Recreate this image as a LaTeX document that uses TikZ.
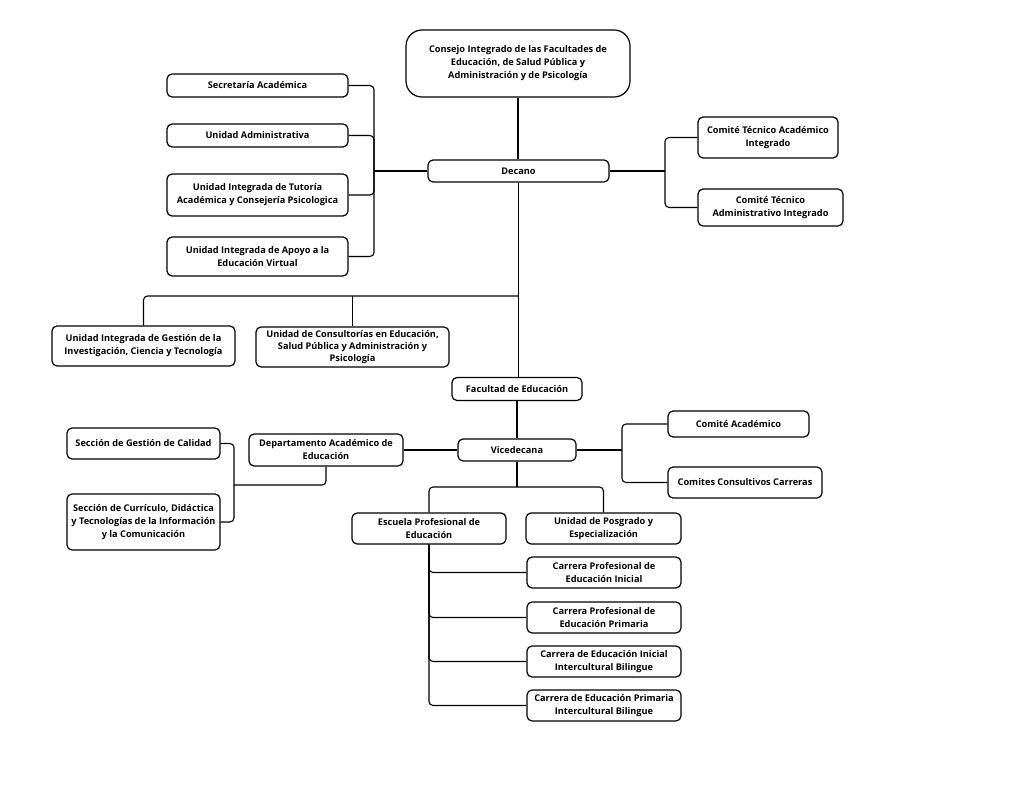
\documentclass[tikz,border=0pt]{standalone}
\usepackage{fontspec}
\setmainfont{Open Sans}
\usetikzlibrary{positioning}

\begin{document}
\begin{tikzpicture}[x=1pt, y=-1pt,
  box/.style={draw, line width=1.2pt, rounded corners=5pt, align=center, inner sep=1pt, fill=white, font=\fontsize{9.2}{13}\selectfont\bfseries},
  line/.style={line width=1.1pt, rounded corners=4pt}
]
  \useasboundingbox (0,0) rectangle (1024,799);

  % top level
  \node[box, minimum width=224pt, minimum height=67pt, rounded corners=16pt] (consejo) at (518,63.5) {Consejo Integrado de las Facultades de\\Educación, de Salud Pública y\\Administración y de Psicología};
  \node[box, minimum width=181pt, minimum height=22pt] (decano) at (518.5,171) {Decano};

  \node[box, minimum width=181pt, minimum height=23pt] (secr) at (257.5,85.5) {Secretaría Académica};
  \node[box, minimum width=181pt, minimum height=23pt] (admin) at (257.5,135.5) {Unidad Administrativa};
  \node[box, minimum width=181pt, minimum height=42pt] (tutoria) at (257.5,195) {Unidad Integrada de Tutoría\\Académica y Consejería Psicologica};
  \node[box, minimum width=181pt, minimum height=39pt] (apoyo) at (257.5,256.5) {Unidad Integrada de Apoyo a la\\Educación Virtual};

  \node[box, minimum width=140pt, minimum height=41pt] (ctaca) at (768,137.5) {Comité Técnico Académico\\Integrado};
  \node[box, minimum width=145pt, minimum height=37pt] (ctadm) at (770.5,207.5) {Comité Técnico\\Administrativo Integrado};

  \node[box, minimum width=183pt, minimum height=40pt] (gestion) at (143.5,346) {Unidad Integrada de Gestión de la\\Investigación, Ciencia y Tecnología};
  \node[box, minimum width=193pt, minimum height=40pt, font=\fontsize{9.2}{12}\selectfont\bfseries] (consult) at (352.5,347) {Unidad de Consultorías en Educación,\\Salud Pública y Administración y\\Psicología};

  % faculty
  \node[box, minimum width=130pt, minimum height=23pt] (facultad) at (517,389) {Facultad de Educación};
  \node[box, minimum width=118pt, minimum height=22pt] (vice) at (517,450) {Vicedecana};

  \node[box, minimum width=141pt, minimum height=26pt] (comaca) at (738.5,424) {Comité Académico};
  \node[box, minimum width=154pt, minimum height=31pt] (comcons) at (745,482.5) {Comites Consultivos Carreras};

  \node[box, minimum width=154pt, minimum height=32pt] (depto) at (326,450) {Departamento Académico de\\Educación};
  \node[box, minimum width=153pt, minimum height=31pt] (secgest) at (143.5,443.5) {Sección de Gestión de Calidad};
  \node[box, minimum width=153pt, minimum height=56pt] (seccurr) at (143.5,522) {Sección de Currículo, Didáctica\\y Tecnologías de la Información\\y la Comunicación};

  \node[box, minimum width=154pt, minimum height=31pt] (escuela) at (429,528.5) {Escuela Profesional de\\Educación};
  \node[box, minimum width=155pt, minimum height=31pt] (posgrado) at (603.5,528.5) {Unidad de Posgrado y\\Especialización};

  \node[box, minimum width=154pt, minimum height=31pt] (car1) at (604,572.5) {Carrera Profesional de\\Educación Inicial};
  \node[box, minimum width=154pt, minimum height=31pt] (car2) at (604,617.5) {Carrera Profesional de\\Educación Primaria};
  \node[box, minimum width=154pt, minimum height=31pt] (car3) at (604,661.5) {Carrera de Educación Inicial\\Intercultural Bilingue};
  \node[box, minimum width=154pt, minimum height=31pt] (car4) at (604,705.5) {Carrera de Educación Primaria\\Intercultural Bilingue};

  % bus points
  \coordinate (lbus) at (374,171);
  \coordinate (rbus) at (665,171);
  \coordinate (hbus) at (518.5,296);
  \coordinate (vbus) at (622,450);
  \coordinate (dbus) at (234,485);
  \coordinate (ebus) at (517,487);

  \draw[line] (consejo.south) -- (consejo.south |- decano.north);
  \draw[line] (decano.west) -- (lbus);
  \foreach \n in {secr,admin,tutoria,apoyo}
    \draw[line] (\n.east) -| (lbus);
  \draw[line] (decano.east) -- (rbus);
  \foreach \n in {ctaca,ctadm}
    \draw[line] (\n.west) -| (rbus);

  \draw[line] (decano.south) -- (decano.south |- facultad.north);
  \draw[line] (hbus) -| (gestion.north);
  \draw[line] (consult.north) -- (consult.north |- hbus);

  \draw[line] (facultad.south) -- (vice.north);
  \draw[line] (vice.east) -- (vbus);
  \foreach \n in {comaca,comcons}
    \draw[line] (\n.west) -| (vbus);
  \draw[line] (vice.west) -- (depto.east);
  \draw[line] (depto.south) |- (dbus);
  \foreach \n in {secgest,seccurr}
    \draw[line] (\n.east) -| (dbus);

  \draw[line] (vice.south) -- (ebus);
  \draw[line] (ebus) -| (escuela.north);
  \draw[line] (ebus) -| (posgrado.north);
  \foreach \n in {car1,car2,car3,car4}
    \draw[line] (escuela.south) |- (\n.west);
\end{tikzpicture}
\end{document}
